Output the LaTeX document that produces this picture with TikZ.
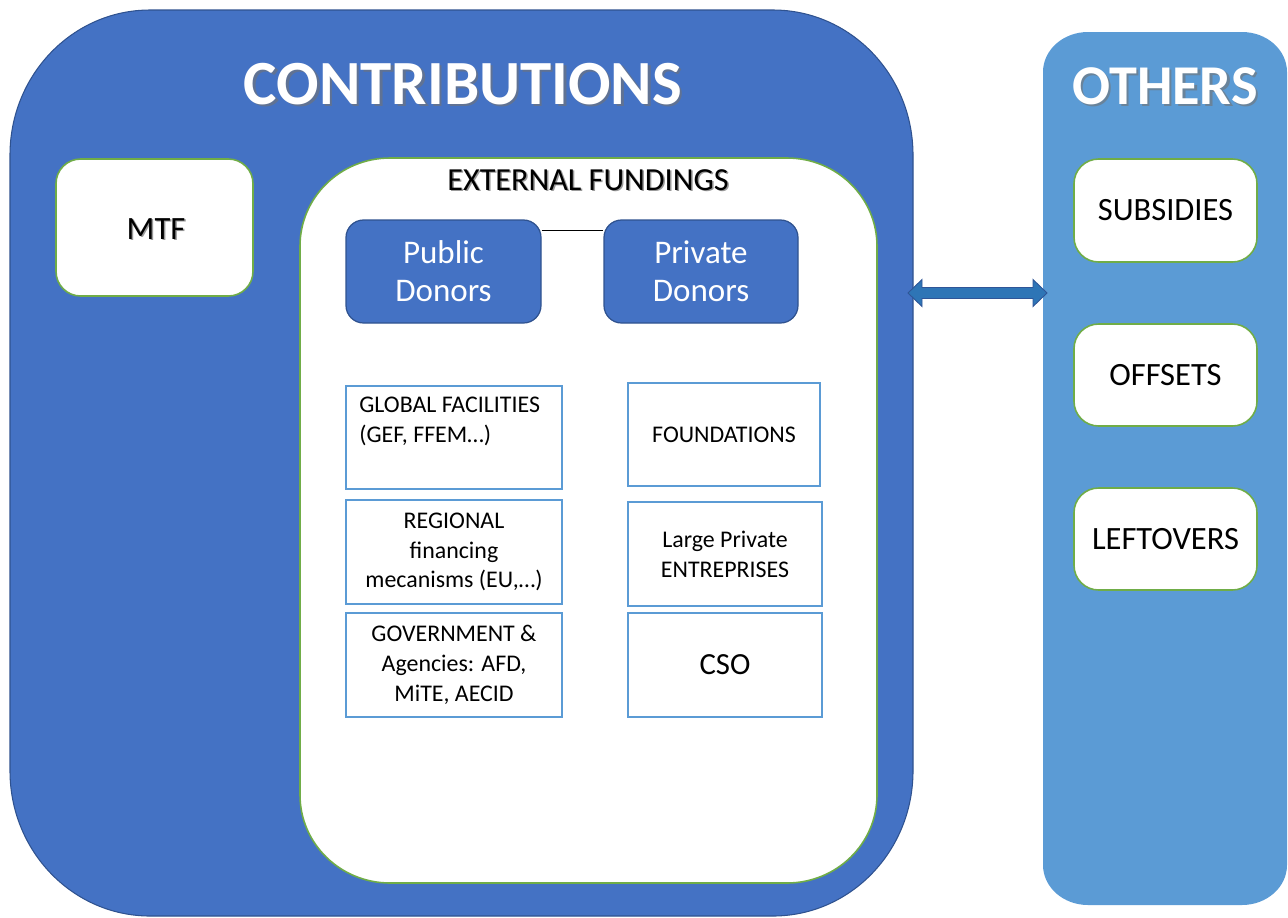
\documentclass[tikz,border=0pt]{standalone}
\usepackage{fontspec}
\setmainfont{Carlito}
\usetikzlibrary{calc}
\definecolor{cblue}{HTML}{4472C4}
\definecolor{cblueb}{HTML}{2F528F}
\definecolor{lblue}{HTML}{5B9BD5}
\definecolor{cgreen}{HTML}{70AD47}
\definecolor{arrowc}{HTML}{2E75B6}
\definecolor{arrowb}{HTML}{2F5597}
\newcommand\erect[7]{%
  \path[#1] ({#2+#6},{#3}) -- ({#4-#6},{#3})
    arc[start angle=90,end angle=0,x radius=#6,y radius=#7]
    -- ({#4},{#5+#7})
    arc[start angle=0,end angle=-90,x radius=#6,y radius=#7]
    -- ({#2+#6},{#5})
    arc[start angle=270,end angle=180,x radius=#6,y radius=#7]
    -- ({#2},{#3-#7})
    arc[start angle=180,end angle=90,x radius=#6,y radius=#7]
    -- cycle;}
\begin{document}
\begin{tikzpicture}[x=0.02cm,y=0.02cm,
  whitebox/.style={draw=cgreen, fill=white, line width=0.9pt, rounded corners=14pt,
    font=\fontsize{18.5}{21}\selectfont, inner sep=0pt},
  donor/.style={draw=cblueb, fill=cblue, line width=0.7pt, rounded corners=10pt,
    text=white, align=center, font=\fontsize{18.8}{21.5}\selectfont, inner sep=0pt},
  srcbox/.style={draw=lblue, line width=1.1pt, fill=white, align=center,
    font=\fontsize{13.6}{17}\selectfont, inner sep=0pt},
  srctext/.style={align=center, font=\fontsize{13.6}{17}\selectfont, inner sep=0pt},
  bigtitle/.style={font=\bfseries\fontsize{35.8}{38}\selectfont, inner sep=0pt},
  shadowtxt/.style={text=black!55, opacity=0.6},
]
\useasboundingbox (0,0) rectangle (1288,-917);
% main containers
\erect{fill=cblue, draw=cblueb, line width=0.6pt}{10}{-10}{913}{-916}{140}{145}
\erect{fill=lblue}{1043}{-32}{1287}{-905}{45}{40}
\erect{fill=white, draw=cgreen, line width=0.9pt}{300}{-158}{877}{-883}{90}{88}

% titles
\node[bigtitle, shadowtxt] (contribS) at (465.5,-86.5) {CONTRIBUTIONS};
\node[bigtitle, text=white] (contrib) at (463,-84) {CONTRIBUTIONS};
\node[bigtitle, shadowtxt, font=\bfseries\fontsize{32}{36}\selectfont] (othersS) at (1167.5,-88.5) {OTHERS};
\node[bigtitle, text=white, font=\bfseries\fontsize{32}{36}\selectfont] (others) at (1165,-86) {OTHERS};
\node[font=\fontsize{18.3}{20}\selectfont, text=black!40, inner sep=0pt] (extS) at (589.5,-181.5) {EXTERNAL FUNDINGS};
\node[font=\fontsize{18.3}{20}\selectfont, inner sep=0pt] (ext) at (588,-180) {EXTERNAL FUNDINGS};

% white boxes
\node[whitebox, minimum width={197*0.02cm}, minimum height={137*0.02cm}] (mtf) at (154.5,-227.5) {};
\node[font=\fontsize{18.5}{21}\selectfont, text=black!40, inner sep=0pt] (mtfS) at (157.5,-230.5) {MTF};
\node[font=\fontsize{18.5}{21}\selectfont, inner sep=0pt] (mtft) at (156,-229) {MTF};
\node[whitebox, minimum width={183*0.02cm}, minimum height={103*0.02cm}] (sub) at (1165.5,-210.5) {SUBSIDIES};
\node[whitebox, minimum width={183*0.02cm}, minimum height={102*0.02cm}] (off) at (1165.5,-375) {OFFSETS};
\node[whitebox, minimum width={183*0.02cm}, minimum height={102*0.02cm}] (left) at (1165.5,-539) {LEFTOVERS};

% donors
\node[donor, minimum width={195*0.02cm}, minimum height={103*0.02cm}] (pub) at (443.5,-271.5) {Public\\Donors};
\node[donor, minimum width={194*0.02cm}, minimum height={103*0.02cm}] (priv) at (701,-271.5) {Private\\Donors};
\draw[black, line width=0.7pt] ([yshift=-0.22cm]pub.north east) -- ([yshift=-0.22cm]priv.north west);

% source boxes
\node[srcbox, minimum width={216*0.02cm}, minimum height={103*0.02cm}] (glob) at (454,-437.5) {};
\node[srctext, align=left, anchor=north west] (globt) at (359,-397) {GLOBAL FACILITIES\\(GEF, FFEM…)};
\node[srcbox, minimum width={216*0.02cm}, minimum height={104*0.02cm}] (reg) at (454,-552) {REGIONAL\\financing\\mecanisms (EU,…)};
\node[srcbox, minimum width={216*0.02cm}, minimum height={104*0.02cm}] (gov) at (454,-665) {GOVERNMENT \&\\Agencies: AFD,\\MiTE, AECID};
\node[srcbox, minimum width={192*0.02cm}, minimum height={103*0.02cm}] (found) at (724,-434.5) {FOUNDATIONS};
\node[srcbox, minimum width={194*0.02cm}, minimum height={104*0.02cm}] (large) at (725,-554) {Large Private\\ENTREPRISES};
\node[srcbox, minimum width={194*0.02cm}, minimum height={104*0.02cm}, font=\fontsize{17.5}{20}\selectfont] (cso) at (725,-665) {CSO};

% double arrow between the two containers
\coordinate (arrL) at (908,-293);
\coordinate (arrR) at (1047,-293);
\path[fill=arrowc, draw=arrowb, line width=0.5pt]
  (arrL) -- ++(14,13.5) -- ++(0,-8) -- ($(arrR)+(-14,5.5)$) -- ++(0,8) -- (arrR)
  -- ++(-14,-13.5) -- ++(0,8) -- ($(arrL)+(14,-5.5)$) -- ++(0,-8) -- cycle;
\end{tikzpicture}
\end{document}
